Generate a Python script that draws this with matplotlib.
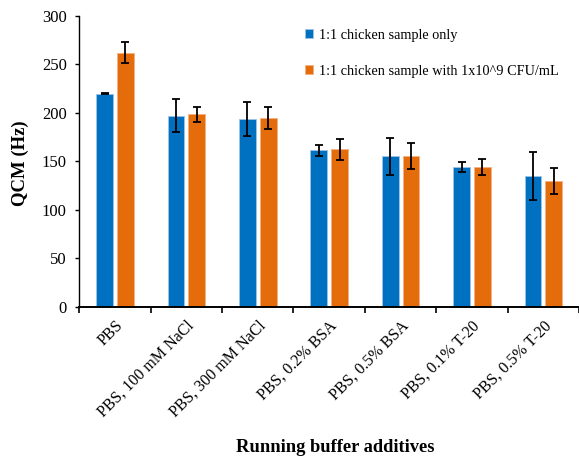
import matplotlib.pyplot as plt
import numpy as np

plt.rcParams['font.family'] = ['Liberation Serif', 'DejaVu Serif']

# --- data ---
categories = ['PBS', 'PBS, 100 mM NaCl', 'PBS, 300 mM NaCl', 'PBS, 0.2% BSA',
              'PBS, 0.5% BSA', 'PBS, 0.1% T-20', 'PBS, 0.5% T-20']
sample_only = [220, 197, 194, 161.5, 155, 144, 135]
sample_only_err = [1, 17, 17.5, 5.5, 19.5, 5.5, 25]
sample_cfu = [262, 198.5, 195, 162.5, 155.5, 144, 130]
sample_cfu_err = [11, 8, 11.5, 11, 13, 8, 13.5]
series_names = ['1:1 chicken sample only', '1:1 chicken sample with 1x10^9 CFU/mL']

fig = plt.figure(figsize=(5.79, 4.57), dpi=100)
ax = fig.add_axes([0.137, 0.329, 0.863, 0.636])

x = np.arange(len(categories))
w = 0.235
off = 0.145
err_kw = dict(ecolor='black', elinewidth=1.3, capsize=3, capthick=1.3)
ax.bar(x - off, sample_only, w, yerr=sample_only_err, color='#0070C0',
       edgecolor='#9DC3E6', linewidth=0.6, label=series_names[0], error_kw=err_kw)
ax.bar(x + off, sample_cfu, w, yerr=sample_cfu_err, color='#E46C0A',
       edgecolor='#F4B183', linewidth=0.6, label=series_names[1], error_kw=err_kw)

ax.set_xlim(-0.5, len(categories) - 0.5)
ax.set_ylim(0, 300)
ax.set_yticks(np.arange(0, 301, 50))

# category labels centred, tick marks between groups
ax.set_xticks(x)
ax.set_xticklabels(categories, rotation=45, ha='right', rotation_mode='anchor', fontsize=11.5)
ax.set_xticks(np.arange(-0.5, len(categories), 1), minor=True)
ax.tick_params(axis='x', which='major', length=0, pad=8)
ax.tick_params(axis='x', which='minor', length=4, width=1.2, direction='out')
ax.tick_params(axis='y', length=3, width=1, direction='out', labelsize=12, pad=6)

for s in ['top', 'right']:
    ax.spines[s].set_visible(False)
ax.spines['left'].set_linewidth(1.0)
ax.spines['bottom'].set_linewidth(1.4)

ax.set_ylabel('QCM (Hz)', fontsize=13.5, fontweight='bold')
ax.yaxis.set_label_coords(-0.1, 0.495)
ax.set_xlabel('Running buffer additives', fontsize=13.3, fontweight='bold')
ax.xaxis.set_label_coords(0.512, -0.457)

ax.legend(loc='upper left', bbox_to_anchor=(0.425, 1.0), frameon=False, fontsize=10.3,
          handlelength=0.6, handleheight=0.6, handletextpad=0.4, labelspacing=1.6)

fig.savefig('out.png', dpi=100)
